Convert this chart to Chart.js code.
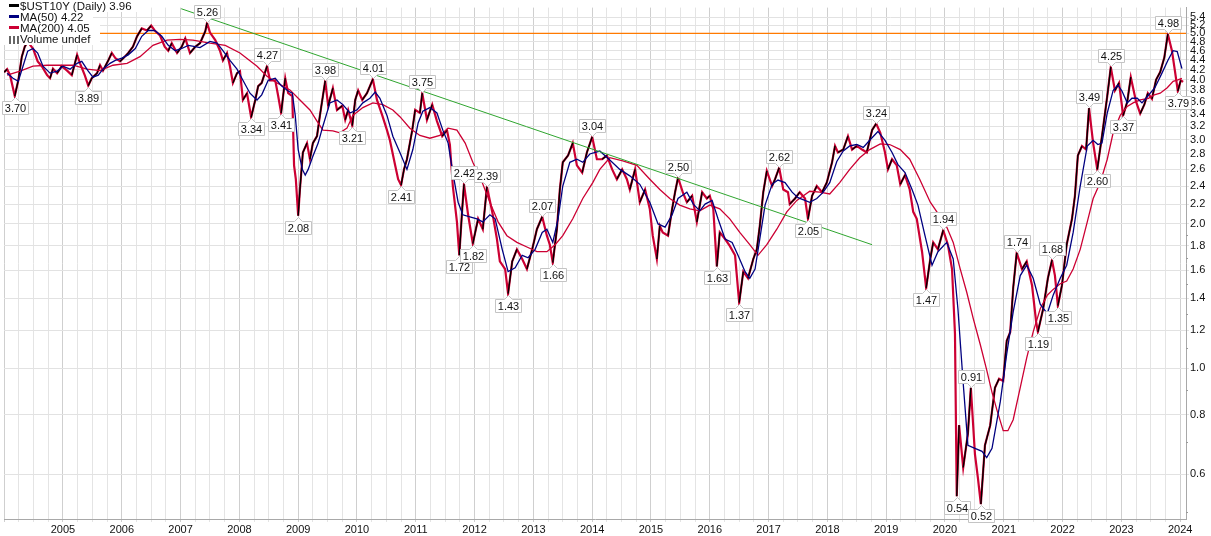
<!DOCTYPE html>
<html>
<head>
<meta charset="utf-8">
<script src="https://cdn.jsdelivr.net/npm/chart.js@4.4.1/dist/chart.umd.min.js"></script>
<style>
  body { margin: 0; background: #fff; }
  #wrap { position: relative; width: 1211px; height: 536px; }
  #legend { position: absolute; left: 0; top: 1px; font: 11.5px "Liberation Sans", Arial, sans-serif; color: #111; }
  #legend .row { display: block; width: fit-content; height: 11px; line-height: 11px; padding: 0 10px 0 9px; background: #fff; white-space: nowrap; }
  #legend .mk { display: inline-block; width: 10px; height: 3px; margin-right: 1px; vertical-align: 3px; }
  #legend .vol { display: inline-block; width: 10px; height: 8px; margin-right: 1px; vertical-align: -1px;
    background: linear-gradient(to right, #666 0 2px, transparent 2px 4px, #666 4px 6px, transparent 6px 8px, #666 8px 10px); }
</style>
</head>
<body>
<div id="wrap">
  <canvas id="chart" width="1211" height="536"></canvas>
  <div id="legend">
    <div class="row"><span class="mk" style="background:#000"></span>$UST10Y (Daily) 3.96</div>
    <div class="row"><span class="mk" style="background:#000080"></span>MA(50) 4.22</div>
    <div class="row"><span class="mk" style="background:#cc0033"></span>MA(200) 4.05</div>
    <div class="row"><span class="vol"></span>Volume undef</div>
  </div>
</div>
<script>
// dates are decimal years, values are yield in %
const priceSeries = [
  [2004.00,4.15],[2004.05,4.21],[2004.10,4.09],[2004.18,3.70],[2004.24,3.99],[2004.30,4.47],[2004.35,4.69],[2004.40,4.80],
  [2004.49,4.65],[2004.57,4.37],[2004.64,4.27],[2004.73,4.09],[2004.78,4.03],[2004.83,4.22],[2004.90,4.13],[2004.98,4.27],
  [2005.07,4.18],[2005.15,4.09],[2005.24,4.51],[2005.29,4.33],[2005.37,4.09],[2005.43,3.89],[2005.49,4.03],[2005.58,4.13],
  [2005.63,4.29],[2005.68,4.18],[2005.77,4.39],[2005.83,4.55],[2005.89,4.44],[2005.97,4.37],
  [2006.05,4.47],[2006.11,4.55],[2006.19,4.69],[2006.26,4.93],[2006.34,5.12],[2006.43,5.07],[2006.50,5.19],[2006.56,5.07],
  [2006.65,4.95],[2006.73,4.69],[2006.79,4.60],[2006.85,4.77],[2006.94,4.55],
  [2007.02,4.69],[2007.08,4.88],[2007.16,4.55],[2007.25,4.69],[2007.33,4.77],[2007.42,5.05],[2007.45,5.26],[2007.50,5.02],
  [2007.59,4.84],[2007.67,4.60],[2007.72,4.39],[2007.79,4.55],[2007.84,4.27],[2007.89,3.94],[2007.96,4.13],
  [2008.01,4.17],[2008.06,3.63],[2008.13,3.75],[2008.20,3.34],[2008.27,3.63],[2008.32,3.88],[2008.38,3.94],[2008.47,4.27],
  [2008.52,3.99],[2008.61,3.99],[2008.66,3.70],[2008.71,3.41],[2008.78,4.03],[2008.83,3.75],[2008.90,3.70],[2008.93,2.65],
  [2008.96,2.48],[2009.00,2.08],[2009.03,2.36],[2009.08,2.82],[2009.15,2.95],[2009.20,2.73],[2009.25,2.95],[2009.32,3.05],
  [2009.37,3.37],[2009.46,3.98],[2009.51,3.53],[2009.59,3.84],[2009.66,3.46],[2009.75,3.53],[2009.80,3.30],[2009.85,3.46],
  [2009.92,3.21],[2009.97,3.63],
  [2010.02,3.80],[2010.09,3.63],[2010.17,3.75],[2010.27,4.01],[2010.34,3.63],[2010.43,3.37],[2010.51,3.14],[2010.56,2.99],
  [2010.65,2.65],[2010.70,2.48],[2010.75,2.41],[2010.80,2.60],[2010.85,2.73],[2010.94,3.14],[2010.99,3.46],
  [2011.07,3.41],[2011.11,3.75],[2011.19,3.30],[2011.28,3.55],[2011.36,3.28],[2011.45,3.05],[2011.53,3.14],[2011.58,2.93],
  [2011.63,2.40],[2011.70,2.02],[2011.74,1.72],[2011.79,2.15],[2011.82,2.42],[2011.89,2.09],[2011.97,1.82],
  [2012.06,2.05],[2012.14,1.95],[2012.21,2.39],[2012.30,2.12],[2012.38,1.86],[2012.43,1.67],[2012.52,1.61],[2012.57,1.43],
  [2012.64,1.67],[2012.72,1.77],[2012.81,1.69],[2012.89,1.61],[2012.98,1.77],
  [2013.06,1.95],[2013.15,2.07],[2013.23,1.89],[2013.28,1.81],[2013.33,1.66],[2013.40,1.95],[2013.45,2.36],[2013.50,2.69],
  [2013.59,2.78],[2013.67,2.95],[2013.74,2.65],[2013.83,2.56],[2013.91,2.82],[2014.00,3.04],
  [2014.08,2.73],[2014.17,2.73],[2014.25,2.78],[2014.34,2.60],[2014.42,2.48],[2014.51,2.60],[2014.59,2.48],[2014.64,2.36],
  [2014.73,2.60],[2014.81,2.22],[2014.90,2.36],[2014.98,2.15],
  [2015.03,1.89],[2015.10,1.69],[2015.15,1.98],[2015.20,1.92],[2015.29,1.89],[2015.36,2.15],[2015.41,2.33],[2015.46,2.50],
  [2015.54,2.33],[2015.61,2.22],[2015.70,2.29],[2015.78,2.02],[2015.87,2.33],[2015.95,2.26],
  [2016.00,2.29],[2016.06,2.15],[2016.12,1.63],[2016.17,1.92],[2016.26,1.86],[2016.34,1.80],[2016.43,1.72],[2016.50,1.37],
  [2016.57,1.59],[2016.65,1.54],[2016.74,1.69],[2016.80,1.77],[2016.85,1.98],[2016.91,2.33],[2016.97,2.58],
  [2017.06,2.40],[2017.11,2.48],[2017.18,2.62],[2017.25,2.36],[2017.33,2.33],[2017.36,2.20],[2017.45,2.26],[2017.53,2.33],
  [2017.62,2.26],[2017.67,2.05],[2017.74,2.29],[2017.82,2.40],[2017.91,2.33],[2017.99,2.44],
  [2018.08,2.69],[2018.13,2.91],[2018.18,2.82],[2018.27,2.86],[2018.35,3.05],[2018.42,2.86],[2018.50,2.91],[2018.59,2.86],
  [2018.67,2.82],[2018.76,3.14],[2018.83,3.24],[2018.90,3.10],[2018.98,2.82],
  [2019.03,2.60],[2019.10,2.73],[2019.18,2.65],[2019.24,2.42],[2019.32,2.53],[2019.40,2.36],[2019.46,2.12],[2019.52,2.05],
  [2019.61,1.75],[2019.68,1.47],[2019.75,1.69],[2019.80,1.83],[2019.88,1.77],[2019.97,1.94],
  [2020.05,1.81],[2020.12,1.61],[2020.17,1.18],[2020.20,0.54],[2020.24,0.76],[2020.31,0.62],[2020.39,0.73],[2020.44,0.91],
  [2020.51,0.66],[2020.56,0.59],[2020.61,0.52],[2020.68,0.69],[2020.77,0.76],[2020.85,0.91],[2020.92,0.95],[2020.99,0.94],
  [2021.05,1.14],[2021.11,1.19],[2021.16,1.47],[2021.22,1.74],[2021.31,1.61],[2021.39,1.67],[2021.48,1.49],[2021.55,1.25],
  [2021.58,1.19],[2021.67,1.33],[2021.75,1.54],[2021.82,1.68],[2021.87,1.56],[2021.92,1.35],[2021.99,1.49],
  [2022.07,1.81],[2022.16,2.05],[2022.21,2.29],[2022.26,2.78],[2022.33,2.91],[2022.40,2.86],[2022.45,3.49],[2022.52,2.95],
  [2022.59,2.60],[2022.67,3.05],[2022.76,3.70],[2022.82,4.25],[2022.89,3.80],[2022.96,3.94],
  [2023.03,3.37],[2023.10,3.60],[2023.16,4.05],[2023.25,3.60],[2023.32,3.40],[2023.39,3.55],[2023.45,3.75],[2023.52,3.65],
  [2023.59,4.00],[2023.66,4.15],[2023.73,4.45],[2023.79,4.98],[2023.86,4.60],[2023.91,4.18],[2023.96,3.79],[2024.01,3.99],
  [2024.05,3.96]
];

const ma50Series = [
  [2004.05,4.13],[2004.15,4.03],[2004.24,3.97],[2004.32,4.27],[2004.40,4.59],[2004.49,4.65],[2004.57,4.55],[2004.66,4.27],
  [2004.78,4.13],[2004.90,4.17],[2005.00,4.27],[2005.12,4.21],[2005.24,4.33],[2005.32,4.37],[2005.43,4.17],[2005.51,4.05],
  [2005.60,4.09],[2005.68,4.21],[2005.80,4.33],[2005.89,4.39],[2006.00,4.44],[2006.11,4.51],[2006.23,4.65],[2006.34,4.93],
  [2006.45,5.07],[2006.56,5.07],[2006.68,4.93],[2006.79,4.72],[2006.91,4.60],[2007.02,4.65],[2007.13,4.72],[2007.25,4.69],
  [2007.33,4.67],[2007.50,4.81],[2007.62,4.77],[2007.72,4.60],[2007.84,4.39],[2007.96,4.21],[2008.06,3.99],[2008.18,3.75],
  [2008.30,3.63],[2008.38,3.72],[2008.49,3.99],[2008.61,4.03],[2008.72,3.88],[2008.83,3.79],[2008.90,3.75],[2008.95,3.37],
  [2009.00,2.86],[2009.07,2.60],[2009.12,2.53],[2009.17,2.60],[2009.25,2.77],[2009.34,2.95],[2009.42,3.20],[2009.54,3.58],
  [2009.66,3.63],[2009.76,3.55],[2009.88,3.41],[2010.00,3.46],[2010.10,3.58],[2010.22,3.66],[2010.31,3.77],[2010.39,3.66],
  [2010.51,3.37],[2010.61,3.05],[2010.73,2.82],[2010.85,2.60],[2010.95,2.86],[2011.04,3.25],[2011.12,3.44],[2011.24,3.50],
  [2011.36,3.41],[2011.46,3.14],[2011.55,2.95],[2011.63,2.56],[2011.72,2.22],[2011.80,2.09],[2011.92,2.07],[2012.04,2.05],
  [2012.14,2.02],[2012.26,2.09],[2012.35,2.05],[2012.47,1.77],[2012.57,1.59],[2012.69,1.62],[2012.81,1.72],[2012.91,1.70],
  [2013.03,1.77],[2013.15,1.92],[2013.23,1.95],[2013.33,1.83],[2013.42,2.05],[2013.50,2.40],[2013.62,2.69],[2013.74,2.73],
  [2013.84,2.69],[2013.96,2.80],[2014.13,2.84],[2014.30,2.72],[2014.47,2.60],[2014.64,2.52],[2014.81,2.42],[2014.98,2.22],
  [2015.12,2.00],[2015.24,1.97],[2015.36,2.09],[2015.46,2.26],[2015.61,2.33],[2015.72,2.20],[2015.83,2.13],[2015.92,2.20],
  [2016.04,2.24],[2016.14,2.05],[2016.26,1.86],[2016.38,1.83],[2016.48,1.72],[2016.60,1.59],[2016.68,1.54],[2016.77,1.61],
  [2016.85,1.86],[2016.94,2.19],[2017.06,2.42],[2017.16,2.47],[2017.28,2.44],[2017.40,2.33],[2017.50,2.27],[2017.70,2.22],
  [2017.82,2.26],[2017.93,2.33],[2018.04,2.44],[2018.16,2.70],[2018.27,2.84],[2018.38,2.91],[2018.50,2.93],[2018.61,2.89],
  [2018.72,2.99],[2018.86,3.12],[2018.98,2.99],[2019.10,2.82],[2019.20,2.66],[2019.32,2.56],[2019.44,2.36],[2019.54,2.19],
  [2019.66,1.89],[2019.78,1.64],[2019.88,1.75],[2020.03,1.83],[2020.14,1.69],[2020.22,1.33],[2020.31,0.93],[2020.39,0.69],
  [2020.51,0.68],[2020.63,0.67],[2020.71,0.65],[2020.80,0.68],[2020.94,0.85],[2021.05,1.07],[2021.16,1.31],[2021.28,1.56],
  [2021.39,1.64],[2021.50,1.54],[2021.62,1.36],[2021.74,1.30],[2021.84,1.42],[2021.96,1.54],[2022.07,1.64],[2022.18,1.92],
  [2022.30,2.40],[2022.42,2.91],[2022.52,2.99],[2022.60,2.93],[2022.67,2.95],[2022.76,3.41],[2022.86,3.80],[2022.94,3.90],
  [2023.01,3.79],[2023.10,3.58],[2023.18,3.66],[2023.27,3.66],[2023.35,3.58],[2023.45,3.70],[2023.57,3.85],[2023.69,4.13],
  [2023.79,4.39],[2023.88,4.60],[2023.95,4.58],[2024.03,4.22]
];

const ma200Series = [
  [2004.05,4.09],[2004.27,4.17],[2004.49,4.27],[2004.73,4.29],[2004.95,4.29],[2005.17,4.29],[2005.41,4.21],[2005.63,4.18],
  [2005.85,4.29],[2006.09,4.33],[2006.31,4.47],[2006.53,4.72],[2006.77,4.84],[2006.99,4.86],[2007.21,4.84],[2007.50,4.77],
  [2007.76,4.72],[2008.01,4.55],[2008.30,4.27],[2008.47,4.07],[2008.64,3.94],[2008.86,3.81],[2009.03,3.63],[2009.20,3.46],
  [2009.32,3.28],[2009.42,3.14],[2009.59,3.13],[2009.71,3.10],[2009.83,3.17],[2009.93,3.37],[2010.10,3.50],[2010.27,3.58],
  [2010.44,3.55],[2010.61,3.46],[2010.73,3.35],[2010.90,3.17],[2011.07,3.06],[2011.24,3.02],[2011.41,3.06],[2011.55,3.17],
  [2011.70,3.14],[2011.84,2.95],[2011.97,2.69],[2012.13,2.44],[2012.26,2.22],[2012.40,2.02],[2012.55,1.89],[2012.72,1.83],
  [2012.89,1.79],[2013.06,1.75],[2013.23,1.75],[2013.37,1.81],[2013.50,1.89],[2013.67,2.05],[2013.84,2.26],[2014.01,2.44],
  [2014.13,2.60],[2014.30,2.75],[2014.52,2.71],[2014.76,2.65],[2014.98,2.48],[2015.15,2.36],[2015.32,2.26],[2015.49,2.19],
  [2015.66,2.15],[2015.83,2.13],[2016.00,2.19],[2016.17,2.15],[2016.34,2.05],[2016.51,1.92],[2016.68,1.81],[2016.82,1.72],
  [2016.97,1.81],[2017.14,1.95],[2017.31,2.12],[2017.48,2.24],[2017.70,2.34],[2017.87,2.33],[2018.04,2.31],[2018.21,2.44],
  [2018.38,2.60],[2018.55,2.75],[2018.72,2.86],[2018.90,2.94],[2019.06,2.93],[2019.24,2.86],[2019.40,2.73],[2019.57,2.48],
  [2019.75,2.22],[2019.92,2.07],[2020.03,1.97],[2020.14,1.83],[2020.26,1.61],[2020.37,1.44],[2020.48,1.27],[2020.60,1.12],
  [2020.71,0.99],[2020.80,0.89],[2020.88,0.82],[2020.99,0.74],[2021.07,0.74],[2021.16,0.78],[2021.28,0.91],[2021.39,1.05],
  [2021.50,1.19],[2021.62,1.33],[2021.74,1.42],[2021.84,1.46],[2021.96,1.50],[2022.07,1.52],[2022.18,1.61],[2022.30,1.77],
  [2022.42,2.02],[2022.52,2.26],[2022.64,2.44],[2022.76,2.73],[2022.86,3.10],[2022.98,3.37],[2023.10,3.52],[2023.20,3.58],
  [2023.32,3.63],[2023.46,3.66],[2023.56,3.72],[2023.66,3.75],[2023.78,3.85],[2023.88,3.97],[2023.96,4.00],[2024.03,4.03]
];

// peak / trough callouts: date, value, side
const callouts = [
  [2004.18,3.70,'below'],[2005.43,3.89,'below'],[2007.45,5.26,'above'],[2008.47,4.27,'above'],[2008.20,3.34,'below'],
  [2008.71,3.41,'below'],[2009.00,2.08,'below'],[2009.46,3.98,'above'],[2009.92,3.21,'below'],[2010.27,4.01,'above'],
  [2010.75,2.41,'below'],[2011.11,3.75,'above'],[2011.82,2.42,'above'],[2012.21,2.39,'above'],[2011.74,1.72,'below'],
  [2011.97,1.82,'below'],[2012.57,1.43,'below'],[2013.15,2.07,'above'],[2013.33,1.66,'below'],[2014.00,3.04,'above'],
  [2015.46,2.50,'above'],[2016.12,1.63,'below'],[2016.50,1.37,'below'],[2017.18,2.62,'above'],[2017.67,2.05,'below'],
  [2018.83,3.24,'above'],[2019.97,1.94,'above'],[2019.68,1.47,'below'],[2020.20,0.54,'below'],[2020.44,0.91,'above'],
  [2020.61,0.52,'below'],[2021.22,1.74,'above'],[2021.58,1.19,'below'],[2021.82,1.68,'above'],[2021.92,1.35,'below'],
  [2022.45,3.49,'above'],[2022.59,2.60,'below'],[2022.82,4.25,'above'],[2023.03,3.37,'below'],[2023.79,4.98,'above'],
  [2023.96,3.79,'below']
];

const trendLine = [[2007.01,5.63],[2018.76,1.81]];
const resistanceLevel = 5.0;

const yTicks = [0.6,0.8,1.0,1.2,1.4,1.6,1.8,2.0,2.2,2.4,2.6,2.8,3.0,3.2,3.4,3.6,3.8,4.0,4.2,4.4,4.6,4.8,5.0,5.2,5.4];
const yMinorTicks = [0.5,0.7,0.9,1.1,1.3,1.5,1.7,1.9];
const firstYear = 2004, lastYear = 2024;

const X_MIN = 2003.997, X_MAX = 2024.099;
const Y_MIN = 0.484, Y_MAX = 5.66;
const RED = '#cc0033';
const FONT = '"Liberation Sans", Arial, sans-serif';

const toXY = (arr) => arr.map(([x, y]) => ({ x, y }));

const quarterTicks = [];
for (let y = firstYear; y <= lastYear; y++) {
  for (let q = 0; q < 4; q++) {
    const v = y + q / 4;
    if (v <= lastYear) quarterTicks.push(v);
  }
}

const calloutPlugin = {
  id: 'callouts',
  afterDatasetsDraw(chart) {
    const { ctx, scales: { x, y } } = chart;
    ctx.save();
    ctx.font = '11px ' + FONT;
    ctx.textAlign = 'center';
    ctx.textBaseline = 'middle';
    callouts.forEach(([d, v, side]) => {
      const px = Math.round(x.getPixelForValue(d)) + 0.5;
      const py = Math.round(y.getPixelForValue(v)) + 0.5;
      const text = v.toFixed(2);
      const w = Math.round(ctx.measureText(text).width) + 5;
      const h = 13;
      const s = side === 'above' ? -1 : 1;
      const tip = py + s * 1;
      const base = py + s * 5;
      const far = base + s * h;
      const l = px - w / 2, r = px + w / 2;
      ctx.beginPath();
      ctx.moveTo(l, base);
      ctx.lineTo(px - 4, base);
      ctx.lineTo(px, tip);
      ctx.lineTo(px + 4, base);
      ctx.lineTo(r, base);
      ctx.lineTo(r, far);
      ctx.lineTo(l, far);
      ctx.closePath();
      ctx.fillStyle = '#fff';
      ctx.fill();
      ctx.strokeStyle = '#c4c4c4';
      ctx.lineWidth = 1;
      ctx.stroke();
      ctx.fillStyle = '#111';
      ctx.fillText(text, px, (base + far) / 2 + 0.5);
    });
    ctx.restore();
  }
};

// small unlabelled ticks on the right axis
const minorTickPlugin = {
  id: 'minorTicks',
  afterDraw(chart) {
    const { ctx, chartArea, scales: { y } } = chart;
    ctx.save();
    ctx.strokeStyle = '#999';
    ctx.lineWidth = 1;
    yMinorTicks.forEach(v => {
      const py = Math.round(y.getPixelForValue(v)) + 0.5;
      if (py < chartArea.top || py > chartArea.bottom) return;
      ctx.beginPath();
      ctx.moveTo(chartArea.right, py);
      ctx.lineTo(chartArea.right + 2, py);
      ctx.stroke();
    });
    ctx.restore();
  }
};

// orange level line at 5.0
const levelPlugin = {
  id: 'level',
  beforeDatasetsDraw(chart) {
    const { ctx, chartArea, scales: { y } } = chart;
    const py = y.getPixelForValue(resistanceLevel);
    ctx.save();
    ctx.strokeStyle = '#ff7a00';
    ctx.lineWidth = 1.4;
    ctx.beginPath();
    ctx.moveTo(chartArea.left, py);
    ctx.lineTo(chartArea.right, py);
    ctx.stroke();
    ctx.restore();
  }
};

new Chart(document.getElementById('chart'), {
  type: 'line',
  data: {
    datasets: [
      {
        label: 'Trend',
        data: toXY(trendLine),
        borderColor: '#2fa52f',
        borderWidth: 1,
        order: 0
      },
      {
        label: 'MA(50)',
        data: toXY(ma50Series),
        borderColor: '#000080',
        borderWidth: 1.3,
        order: 1
      },
      {
        label: 'MA(200)',
        data: toXY(ma200Series),
        borderColor: RED,
        borderWidth: 1.3,
        order: 2
      },
      {
        // up-moves of the price line, drawn over the red base line
        label: '$UST10Y up',
        data: toXY(priceSeries),
        borderColor: 'rgba(0,0,0,0)',
        borderWidth: 1.4,
        segment: {
          borderColor: c => (c.p1.parsed.y > c.p0.parsed.y ? '#000' : 'rgba(0,0,0,0)')
        },
        order: 4
      },
      {
        label: '$UST10Y',
        data: toXY(priceSeries),
        borderColor: RED,
        borderWidth: 2.2,
        order: 5
      }
    ]
  },
  options: {
    responsive: false,
    animation: false,
    devicePixelRatio: 1,
    layout: { padding: { left: 4, top: 4, right: 0, bottom: 0 } },
    elements: { point: { radius: 0 }, line: { tension: 0 } },
    plugins: { legend: { display: false }, tooltip: { enabled: false } },
    scales: {
      x: {
        type: 'linear',
        min: X_MIN,
        max: X_MAX,
        afterBuildTicks: s => { s.ticks = quarterTicks.map(v => ({ value: v })); },
        afterFit: s => { s.height = 17; },
        ticks: {
          autoSkip: false,
          maxRotation: 0,
          padding: 1,
          color: '#111',
          font: { family: FONT, size: 11 },
          callback: v => (Math.abs(v - Math.round(v)) < 1e-6 && v > firstYear ? String(Math.round(v)) : '')
        },
        grid: {
          tickLength: 3,
          color: c => (c.tick && Math.abs(c.tick.value - Math.round(c.tick.value)) < 1e-6 ? '#cfcfcf' : '#e4e4e4')
        },
        border: { color: '#a8a8a8' }
      },
      y: {
        type: 'logarithmic',
        position: 'right',
        min: Y_MIN,
        max: Y_MAX,
        afterBuildTicks: s => { s.ticks = yTicks.map(v => ({ value: v })); },
        afterFit: s => { s.width = 25; },
        ticks: {
          autoSkip: false,
          padding: 1,
          color: '#111',
          font: { family: FONT, size: 11 },
          callback: v => Number(v).toFixed(1)
        },
        grid: { tickLength: 3, color: '#e2e2e2' },
        border: { color: '#a8a8a8' }
      }
    }
  },
  plugins: [levelPlugin, calloutPlugin, minorTickPlugin]
});
</script>
</body>
</html>
